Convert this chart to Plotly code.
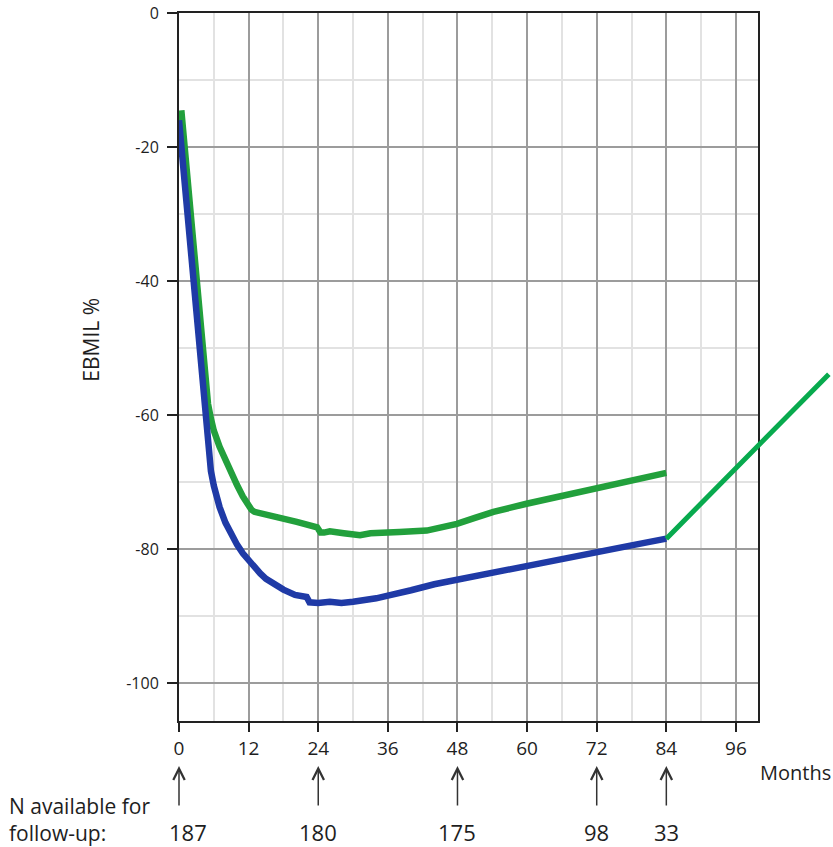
import plotly.graph_objects as go

# ---- data ----
months_blue = [0, 2, 4, 4.3, 4.6, 5, 5.5, 6, 6.5, 7, 8, 9, 10, 11, 12, 13, 14, 15, 16, 18, 20,
               22, 22.5, 24, 26, 28, 30, 32, 34, 36, 38, 40, 44, 48, 52, 56, 60, 66, 72, 78, 84]
ebmil_blue = [-16, -36, -55, -58.5, -62, -65.5, -68.3, -70.5, -72.2, -73.7, -76, -77.8, -79.3,
              -80.6, -81.7, -82.7, -83.6, -84.4, -85, -86, -86.8, -87.1, -87.9, -88, -87.8,
              -88, -87.8, -87.6, -87.3, -86.9, -86.6, -86.1, -85.2, -84.5, -83.8, -83.1,
              -82.4, -81.3, -80.4, -79.4, -78.4]

months_green = [0.4, 4.5, 5, 5.5, 6, 7, 8, 9, 10, 11, 12, 12.5, 13, 15.7, 18, 20.3, 23.8, 24.4,
                25, 26, 28.4, 31.2, 33, 35.8, 38, 42.7, 45, 47.9, 51, 54.2, 59.9, 66.8, 72.6,
                78.3, 84]
ebmil_green = [-14.5, -55.5, -58.3, -60.5, -62.3, -64.7, -66.8, -68.7, -70.4, -72.1, -73.5,
               -74.1, -74.4, -74.9, -75.5, -75.9, -76.7, -77.5, -77.5, -77.3, -77.6, -77.9,
               -77.6, -77.4, -77.4, -77.2, -76.8, -76.2, -75.3, -74.4, -73.2, -71.9, -70.9,
               -69.7, -68.6]

x_ticks = [0, 12, 24, 36, 48, 60, 72, 84, 96]
y_ticks = [0, -20, -40, -60, -80, -100]
y_tick_labels = ["0", "-20", "-40", "-60", "-80", "-100"]

n_months = [0, 24, 48, 72, 84]
n_counts = [187, 180, 175, 98, 33]

FONT = "Open Sans, sans-serif"
BLUE = "#1f3aa6"
GREEN = "#22a03c"
POINTER_GREEN = "#08aa4e"
TXT = "#1e1e1e"

fig = go.Figure()
fig.add_trace(go.Scatter(x=months_green, y=ebmil_green, mode="lines",
                         line=dict(color=GREEN, width=6.5), showlegend=False))
fig.add_trace(go.Scatter(x=months_blue, y=ebmil_blue, mode="lines",
                         line=dict(color=BLUE, width=6.5), showlegend=False))

axis_common = dict(
    showline=True, mirror=True, linecolor="#222222", linewidth=2,
    ticks="outside", tickcolor="#222222", tickwidth=2,
    showgrid=True, gridcolor="#9c9c9c", gridwidth=1.6,
    zeroline=False, fixedrange=True, automargin=False,
)

fig.update_layout(
    width=833, height=847,
    margin=dict(l=179, r=75, t=13, b=126),
    paper_bgcolor="white", plot_bgcolor="white",
    font=dict(family=FONT, color=TXT),
    xaxis=dict(range=[0, 99.8], tickvals=x_ticks, ticklen=9,
               tickfont=dict(size=19, color=TXT, family=FONT),
               minor=dict(dtick=6, tick0=0, showgrid=True, gridcolor="#e2e2e2",
                          gridwidth=1.6, ticks=""),
               **axis_common),
    yaxis=dict(range=[-105.6, 0], tickvals=y_ticks, ticktext=y_tick_labels, ticklen=10,
               ticklabelstandoff=5,
               tickfont=dict(size=16, color=TXT, family=FONT),
               minor=dict(dtick=10, tick0=0, showgrid=True, gridcolor="#e2e2e2",
                          gridwidth=1.6, ticks=""),
               **axis_common),
)

annotations = []
# y-axis title
annotations.append(dict(text="EBMIL %", xref="paper", yref="paper", x=-0.151, y=0.538,
                        textangle=-90, showarrow=False, font=dict(size=21, color=TXT),
                        xanchor="center", yanchor="middle"))
# Months label
annotations.append(dict(text="Months", xref="paper", yref="paper", x=1.064, y=-0.073,
                        showarrow=False, font=dict(size=20, color=TXT),
                        xanchor="center", yanchor="middle"))
# N available label
annotations.append(dict(text="N available for<br>follow-up:", xref="paper", yref="paper",
                        x=-0.297, y=-0.139, align="left", showarrow=False,
                        font=dict(size=21, color=TXT), xanchor="left", yanchor="middle"))
# arrows and counts
for i, (m, n) in enumerate(zip(n_months, n_counts)):
    annotations.append(dict(text="", x=m, xref="x", y=-0.0636, yref="paper",
                            showarrow=True, ax=0, ay=41, arrowhead=5, arrowsize=1.5,
                            arrowwidth=1.5, arrowcolor="#333333", standoff=0))
    annotations.append(dict(text=str(n), x=m, xref="x", y=-0.157, yref="paper",
                            showarrow=False, font=dict(size=22, color=TXT),
                            xanchor="center", yanchor="middle",
                            xshift=9 if i == 0 else 0))
# green pointer line from end of blue curve
annotations.append(dict(text="", x=months_blue[-1], y=ebmil_blue[-1], xref="x", yref="y",
                        showarrow=True, ax=164, ay=-166, arrowhead=0, arrowwidth=5,
                        arrowcolor=POINTER_GREEN, standoff=0))

fig.update_layout(annotations=annotations)

fig.write_html("out.html")
